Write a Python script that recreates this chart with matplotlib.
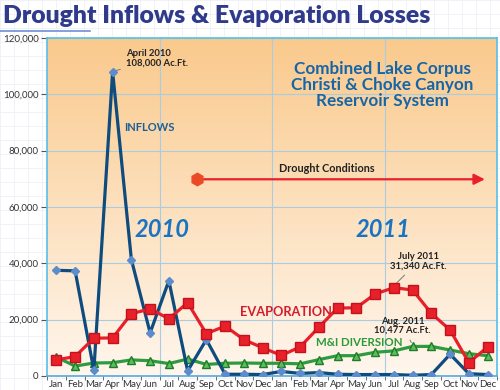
import matplotlib.pyplot as plt
import numpy as np

# monthly values (Ac.Ft.), Jan 2010 - Dec 2011
months = ['Jan', 'Feb', 'Mar', 'Apr', 'May', 'Jun', 'Jul', 'Aug', 'Sep', 'Oct', 'Nov', 'Dec'] * 2
inflows = [37500, 37300, 2000, 108000, 41300, 15300, 33800, 1800, 12900, 600, 600, 500,
           1600, 900, 1200, 600, 500, 500, 500, 250, 500, 7700, 800, 500]
evaporation = [5700, 6900, 13400, 13500, 22100, 23800, 20300, 26000, 15000, 17700, 12900, 10000,
               7300, 10300, 17300, 24100, 24200, 29100, 31340, 30500, 22200, 16300, 4700, 10300]
diversion = [6700, 3500, 4600, 4700, 5700, 5400, 4400, 6000, 4100, 4500, 4600, 4500,
             4500, 4300, 5800, 7200, 7200, 8400, 8900, 10477, 10500, 9200, 7900, 7200]
yticks = [0, 20000, 40000, 60000, 80000, 100000, 120000]

plt.rcParams['font.family'] = ['Lato', 'DejaVu Sans']

fig = plt.figure(figsize=(5, 3.9), dpi=100)

# faint graph-paper background
bg = fig.add_axes([0, 0, 1, 1], zorder=-10)
bg.set_xlim(0, 500)
bg.set_ylim(390, 0)
for v in np.arange(0, 500, 14):
    bg.axvline(v, color='#eef0f6', lw=0.6)
for v in np.arange(0, 390, 14):
    bg.axhline(v, color='#eef0f6', lw=0.6)
bg.plot([0, 90], [31, 31], color='#6f8fd8', lw=1.2)
bg.axis('off')

fig.text(0.006, 0.96, 'Drought Inflows & Evaporation Losses', fontsize=17.8,
         fontweight='heavy', color='#2f3b8a', va='center', ha='left')

ax = fig.add_axes([0.094, 0.036, 0.9, 0.867])
x = np.arange(len(months))

# orange gradient fill
grad = np.linspace(0, 1, 256).reshape(-1, 1)
top = np.array([0.98, 0.79, 0.55])
bot = np.array([1.0, 0.965, 0.93])
img = top * (1 - grad)[..., None] + bot * grad[..., None]
img = img.reshape(256, 1, 3)
ax.imshow(img, extent=[0, 1, 0, 1], transform=ax.transAxes, aspect='auto', zorder=0)

ax.set_xlim(-0.5, 23.5)
ax.set_ylim(0, 120000)
for v in yticks[1:]:
    ax.axhline(v, color='#a8cde3', lw=0.8, zorder=1)
for v in [5.5, 11.5, 17.5]:
    ax.axvline(v, color='#a8cde3', lw=0.8, zorder=1)

ax.plot(x, inflows, color='#0e4c7e', lw=2.3, marker='D', ms=4,
        mfc='#5d8ccc', mec='#5d8ccc', zorder=4)
ax.plot(x, evaporation, color='#e8202a', lw=2.3, marker='s', ms=6.5,
        mfc='#e8202a', mec='#c4121c', zorder=5)
ax.plot(x, diversion, color='#2e9c3e', lw=2.3, marker='^', ms=5.5,
        mfc='#5cc05a', mec='#1f7a2c', zorder=3)

ax.set_xticks(x)
ax.set_xticklabels(months, fontsize=7, color='#333333')
ax.set_xticks(np.arange(-0.5, 24, 1), minor=True)
ax.tick_params(axis='x', which='major', length=0, pad=3)
ax.tick_params(axis='x', which='minor', length=3, color='#555555')
ax.set_yticks(yticks)
ax.set_yticklabels([f'{v:,}' for v in yticks], fontsize=7, color='#333333')
ax.tick_params(axis='y', length=4, color='#555555', pad=2)
for s in ax.spines.values():
    s.set_color('#55c0ea')
    s.set_linewidth(1.2)
ax.spines['bottom'].set_color('#55a8d8')

# drought conditions arrow
ax.annotate('', xy=(23.0, 69800), xytext=(7.5, 69800),
            arrowprops=dict(arrowstyle='-|>', color='#e8202a', lw=1.6,
                            mutation_scale=16), zorder=6)
ax.plot([7.5], [69800], marker='h', ms=9, color='#ec4a26', zorder=7)
ax.text(14.4, 71500, 'Drought Conditions', fontsize=7.8, fontweight='bold',
        color='#222222', ha='center', va='bottom')

ax.text(17.37, 103200, 'Combined Lake Corpus\nChristi & Choke Canyon\nReservoir System',
        fontsize=12.3, fontweight='bold', color='#1565a8', ha='center', va='center',
        linespacing=1.0)

ax.text(5.63, 52000, '2010', fontsize=17, fontweight='bold', style='italic',
        color='#1a74c2', ha='center', va='center')
ax.text(17.4, 52000, '2011', fontsize=17, fontweight='bold', style='italic',
        color='#1a74c2', ha='center', va='center')

ax.text(3.6, 88000, 'INFLOWS', fontsize=8, fontweight='bold', color='#1a5e9a',
        ha='left', va='center')
ax.text(12.25, 22800, 'EVAPORATION', fontsize=9.2, fontweight='bold', color='#d51a2c',
        ha='center', va='center')
ax.text(16.15, 11700, 'M&I DIVERSION', fontsize=8.3, fontweight='bold', color='#2a9a3a',
        ha='center', va='center')

ax.annotate('April 2010\n108,000 Ac.Ft.', xy=(3, 108000), xytext=(3.7, 109600),
            fontsize=6.8, fontweight='bold', color='#222222', ha='left', va='bottom',
            linespacing=1.0,
            arrowprops=dict(arrowstyle='-', color='#777777', lw=0.7))
ax.annotate('July 2011\n31,340 Ac.Ft.', xy=(18, 32000), xytext=(19.3, 37500),
            fontsize=6.8, fontweight='bold', color='#222222', ha='center', va='bottom',
            linespacing=1.0,
            arrowprops=dict(arrowstyle='-', color='#777777', lw=0.7))
ax.annotate('Aug. 2011\n10,477 Ac.Ft.', xy=(19, 11000), xytext=(18.45, 14600),
            fontsize=6.8, fontweight='bold', color='#222222', ha='center', va='bottom',
            linespacing=1.0,
            arrowprops=dict(arrowstyle='-', color='#777777', lw=0.7))

fig.savefig('out.png', dpi=100)
